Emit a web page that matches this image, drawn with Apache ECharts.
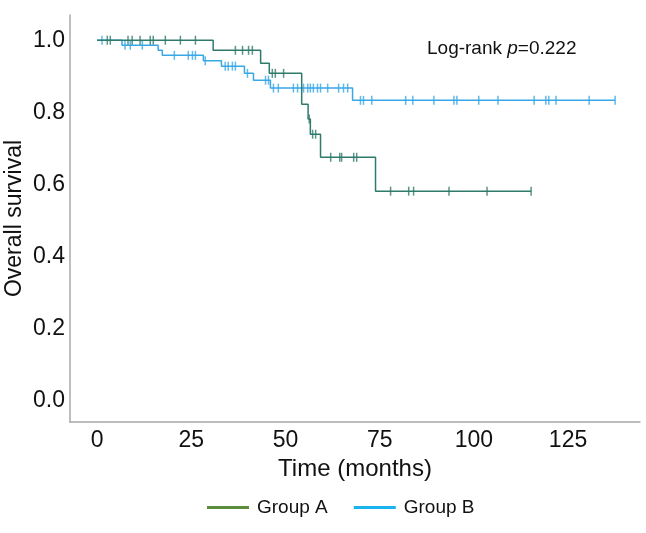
<!DOCTYPE html>
<html>
<head>
<meta charset="utf-8">
<script src="https://cdn.jsdelivr.net/npm/echarts@6/dist/echarts.min.js"></script>
<style>
html,body{margin:0;padding:0;background:#fff;}
#c{width:646px;height:533px;}
</style>
</head>
<body>
<div id="c"></div>
<script>
// Kaplan-Meier step data (months, survival)
var groupATimes = [0, 30.8, 43.4, 45.7, 54.3, 56.0, 56.6, 59.3, 73.9, 115.2];
var groupASurv  = [1, 0.972, 0.936, 0.908, 0.822, 0.781, 0.739, 0.675, 0.581, 0.581];
var groupACensor = [2.7, 3.5, 8.2, 9.3, 11.4, 14.1, 14.9, 18.1, 22.1, 26.1, 36.7, 38.6, 40.2, 41.2, 46.5, 47.3, 49.5, 56.3, 57.2, 58.0, 62.0, 64.4, 64.9, 68.1, 68.9, 77.9, 82.7, 84.0, 93.4, 103.5, 115.2];

var groupBTimes = [0, 6.6, 16.2, 17.3, 28.2, 33.0, 39.1, 41.5, 46.0, 67.8, 137.5];
var groupBSurv  = [1, 0.986, 0.972, 0.958, 0.943, 0.928, 0.908, 0.889, 0.867, 0.833, 0.833];
var groupBCensor = [1.3, 7.4, 8.8, 12.0, 20.5, 24.2, 25.3, 26.1, 28.7, 34.0, 34.8, 35.9, 36.7, 39.9, 44.7, 45.5, 46.8, 48.1, 52.1, 53.2, 54.8, 55.9, 56.6, 57.4, 58.5, 59.3, 61.2, 64.1, 65.4, 66.5, 69.9, 70.7, 72.9, 81.9, 83.8, 89.4, 94.7, 95.5, 101.3, 106.4, 116.0, 119.1, 119.9, 121.8, 130.6, 137.5];

var xTicks = [0, 25, 50, 75, 100, 125];
var yTicks = [0, 0.2, 0.4, 0.6, 0.8, 1.0];
var seriesNames = ['Group A', 'Group B'];

var colA = '#2e7b6b', colB = '#38a7e6';
var legA = '#5b8c3a', legB = '#1ab2ef';

function pairs(t, s){ return t.map(function(v,i){ return [v, s[i]]; }); }
function censorPts(times, tEv, sEv){
  return times.map(function(t){
    var v = sEv[0];
    for (var i=0;i<tEv.length;i++){ if (tEv[i] <= t) v = sEv[i]; }
    return [t, v];
  });
}

var font = '"Liberation Sans", Arial, sans-serif';
var chart = echarts.init(document.getElementById('c'));
chart.setOption({
  animation: false,
  backgroundColor: '#fff',
  grid: {left: 70, right: 6, top: 15, bottom: 111, containLabel: false, outerBoundsMode: 'none'},
  xAxis: {
    type: 'value', min: -7.2, max: 144.1,
    name: 'Time (months)', nameLocation: 'middle', nameGap: 35, nameMoveOverlap: false,
    nameTextStyle: {fontFamily: font, fontSize: 24, color: '#111'},
    axisLine: {show: true, onZero: false, lineStyle: {color: '#a8a8a8', width: 1.5}},
    axisTick: {show: false},
    splitLine: {show: false},
    axisLabel: {customValues: xTicks, fontFamily: font, fontSize: 23, color: '#111', margin: 7}
  },
  yAxis: {
    type: 'value', min: -0.06, max: 1.07,
    name: 'Overall survival', nameLocation: 'middle', nameGap: 44, nameMoveOverlap: false,
    nameTextStyle: {fontFamily: font, fontSize: 23, color: '#111'},
    axisLine: {show: true, onZero: false, lineStyle: {color: '#a8a8a8', width: 1.5}},
    axisTick: {show: false},
    splitLine: {show: false},
    axisLabel: {customValues: yTicks, fontFamily: font, fontSize: 23, color: '#111', margin: 5,
      formatter: function(v){ return v.toFixed(1); }}
  },
  legend: {
    left: 202, top: 493, icon: 'rect', itemWidth: 42, itemHeight: 3, itemGap: 26,
    textStyle: {fontFamily: font, fontSize: 19, color: '#111', padding: [0,0,0,3]},
    data: [
      {name: seriesNames[0], itemStyle: {color: legA}},
      {name: seriesNames[1], itemStyle: {color: legB}}
    ]
  },
  graphic: [{
    type: 'text', left: 427, top: 39,
    style: {
      text: '{a|Log-rank }{b|p}{a|=0.222}',
      rich: {
        a: {fontFamily: font, fontSize: 19, fill: '#111'},
        b: {fontFamily: font, fontSize: 19, fontStyle: 'italic', fill: '#111'}
      }
    }
  }],
  series: [
    {name: seriesNames[1], type: 'line', step: 'end', showSymbol: false, data: pairs(groupBTimes, groupBSurv),
     itemStyle: {color: colB}, lineStyle: {color: colB, width: 1.5}, z: 2},
    {name: 'censorB', type: 'scatter', symbol: 'rect', symbolSize: [1.5, 9], data: censorPts(groupBCensor, groupBTimes, groupBSurv),
     itemStyle: {color: colB}, z: 3},
    {name: seriesNames[0], type: 'line', step: 'end', showSymbol: false, data: pairs(groupATimes, groupASurv),
     itemStyle: {color: colA}, lineStyle: {color: colA, width: 1.5}, z: 4},
    {name: 'censorA', type: 'scatter', symbol: 'rect', symbolSize: [1.5, 9], data: censorPts(groupACensor, groupATimes, groupASurv),
     itemStyle: {color: colA}, z: 5}
  ]
});
</script>
</body>
</html>
